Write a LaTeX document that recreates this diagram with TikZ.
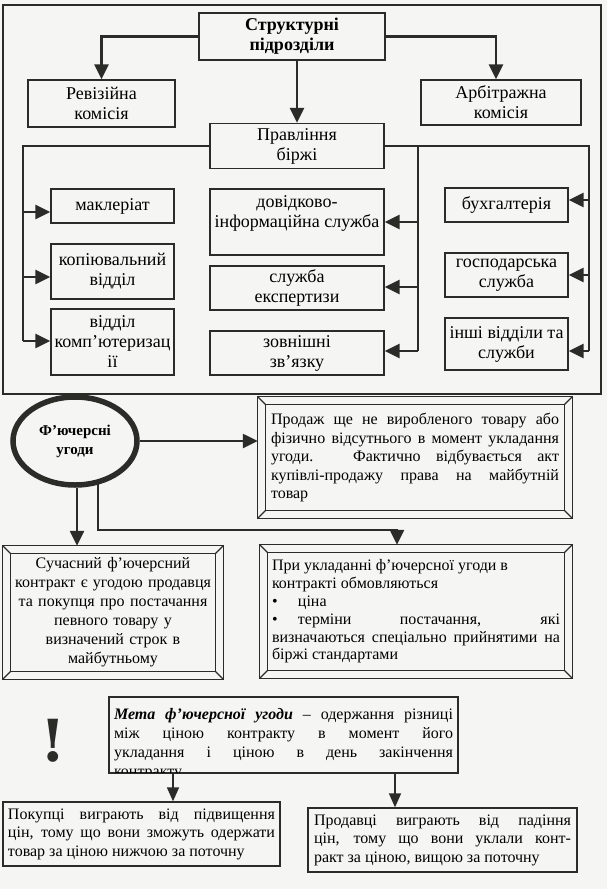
\documentclass[tikz,border=0pt]{standalone}
\usepackage{fontspec}
\setmainfont{Liberation Serif}
\newfontfamily\exclf{DejaVu Serif}
\usetikzlibrary{arrows.meta,shapes.geometric,backgrounds,calc}
\definecolor{paper}{HTML}{F5F5F3}
\definecolor{ink}{HTML}{2B2B28}
\newcommand\topf{\fontsize{18}{20}\selectfont}
\newcommand\bodyf{\fontsize{16}{18.5}\selectfont}
\newcommand\bevel[2]{%
  \draw[bev] (#1.north west) rectangle (#1.south east);
  \draw[bev] ([xshift=#2,yshift=-#2]#1.north west) rectangle ([xshift=-#2,yshift=#2]#1.south east);
  \draw[bev] (#1.north west) -- ([xshift=#2,yshift=-#2]#1.north west);
  \draw[bev] (#1.north east) -- ([xshift=-#2,yshift=-#2]#1.north east);
  \draw[bev] (#1.south west) -- ([xshift=#2,yshift=#2]#1.south west);
  \draw[bev] (#1.south east) -- ([xshift=-#2,yshift=#2]#1.south east);}
\begin{document}
\begin{tikzpicture}[x=1pt,y=-1pt,
  box/.style={draw=ink, line width=1.3pt, fill=paper, inner sep=0pt, align=center, font=\topf},
  bbox/.style={draw=ink, line width=1.3pt, fill=paper, inner sep=0pt, font=\bodyf},
  bevbox/.style={draw=none, fill=paper, inner sep=0pt, font=\bodyf},
  bev/.style={draw=ink, line width=1.2pt},
  frame/.style={draw=ink, line width=1.3pt},
  line/.style={draw=ink, line width=2.4pt},
  conn/.style={draw=ink, line width=2.4pt, -{Triangle[length=15pt,width=14pt]}},
  connb/.style={draw=ink, line width=1.5pt, -{Triangle[length=14pt,width=12pt]}}]
\useasboundingbox (0,0) rectangle (607,889);

% ---------- top section ----------
\draw[frame] (3,5) rectangle (601,394);
\node[box, font=\topf\bfseries, minimum width=186, minimum height=47] (struct) at (292,36.5) {Структурні\\підрозділи};
\node[box, minimum width=147, minimum height=47] (rev) at (101.5,103.5) {Ревізійна\\комісія};
\node[box, minimum width=160, minimum height=45] (arb) at (501,102.5) {Арбітражна\\комісія};
\node[box, minimum width=174, minimum height=45] (prav) at (297,146) {Правління\\біржі};

\node[box, minimum width=123, minimum height=34] (mak) at (112.5,206) {маклеріат};
\node[box, minimum width=123, minimum height=55] (kop) at (112.5,271.5) {копіювальний\\відділ};
\node[box, minimum width=123, minimum height=66] (vid) at (112.5,342) {відділ\\комп’ютеризац\\ії};

\node[box, minimum width=174, minimum height=66] (dov) at (297,222) {};
\node[font=\topf, align=center, inner sep=0pt] (dovt) at (297,213) {довідково-\\інформаційна служба};
\node[box, minimum width=174, minimum height=44] (eksp) at (297,288) {служба\\експертизи};
\node[box, minimum width=174, minimum height=44] (zov) at (297,353) {зовнішні\\зв’язку};

\node[box, minimum width=123, minimum height=34] (buh) at (506.5,205) {бухгалтерія};
\node[box, minimum width=123, minimum height=44] (gosp) at (506.5,275) {господарська\\служба};
\node[box, minimum width=123, minimum height=52] (inshi) at (506.5,344) {інші відділи та\\служби};

\coordinate (LT) at (23,146);
\coordinate (L1) at (23,212);
\coordinate (L2) at (23,277);
\coordinate (L3) at (23,341);
\coordinate (MT) at (418,146);
\coordinate (M1) at (418,222);
\coordinate (M2) at (418,287);
\coordinate (M3) at (418,351);
\coordinate (RT) at (589,146);
\coordinate (R1) at (589,200);
\coordinate (R2) at (589,275);
\coordinate (R3) at (589,351);

% ---------- middle section ----------
\node[ellipse, draw=ink, line width=5.5pt, fill=paper, minimum width=124, minimum height=88, inner sep=0pt, align=center,
      font=\fontsize{15}{19}\selectfont\bfseries] (fut) at (75,441) {Ф’ючерсні\\угоди};

\node[bevbox, minimum width=314, minimum height=121, text width=288, align=justify] (prod) at (415,457.5)
 {Продаж ще не виробленого товару або\linebreak фізично відсутнього в момент укладання\linebreak угоди. Фактично відбувається акт\linebreak купівлі-продажу права на майбутній\linebreak товар};
\bevel{prod}{8pt}

\node[bevbox, minimum width=220, minimum height=133, text width=205, align=center, font=\fontsize{16}{19}\selectfont] (such) at (113,612.5)
 {Сучасний ф’ючерсний\\контракт є угодою продавця\\та покупця про постачання\\певного товару у\\визначений строк в\\майбутньому};
\bevel{such}{8pt}

\node[bevbox, minimum width=312, minimum height=133, text width=288, align=justify, font=\fontsize{16}{17.8}\selectfont] (pri) at (416,611.5)
 {При укладанні ф’ючерсної угоди в\\контракті обмовляються\\\makebox[26pt][l]{•}ціна\\\makebox[26pt][l]{•}терміни постачання, які\linebreak визначаються спеціально прийнятими на\linebreak біржі стандартами};
\bevel{pri}{8pt}

% ---------- bottom section ----------
\node[bbox, minimum width=349, minimum height=76] (meta) at (283.5,735) {};
\begin{scope}
  \clip (meta.north west) rectangle (meta.south east);
  \node[anchor=north, inner sep=0pt, text width=339, align=justify, font=\fontsize{16}{19}\selectfont] (metat) at (283.5,708.5)
   {\textbf{\textit{Мета ф’ючерсної угоди}} – одержання різниці\linebreak між ціною контракту в момент його\linebreak укладання і ціною в день закінчення\linebreak контракту};
\end{scope}
\draw[draw=ink, line width=1.3pt] (meta.north west) rectangle (meta.south east);

\node[font=\exclf\fontsize{58}{58}\selectfont\bfseries, text=ink, inner sep=0pt] (excl) at (53,741) {!};

\node[bbox, minimum width=277, minimum height=64, text width=267, align=justify] (pok) at (141.5,834)
 {Покупці виграють від підвищення\linebreak цін, тому що вони зможуть одержати\linebreak товар за ціною нижчою за поточну};
\node[bbox, minimum width=269, minimum height=64, text width=257, align=justify] (prodv) at (442.5,840)
 {Продавці виграють від падіння\linebreak цін, тому що вони уклали конт-\linebreak ракт за ціною, вищою за поточну};

% ---------- connectors ----------
\begin{scope}[on background layer]
  \fill[paper] (0,0) rectangle (607,889);
  \draw[conn] (struct.west) -| (rev.north);
  \draw[conn] (struct.east) -| ([xshift=-5pt]arb.north);
  \draw[conn] (struct.south -| prav.north) -- (prav.north);
  \draw[line] (prav.west) -- (LT) -- (L3);
  \draw[line] (prav.east) -- (RT) -- (R3);
  \draw[line] (MT) -- (M3);
  \draw[conn] (L1) -- (L1 -| mak.west);
  \draw[conn] (L2) -- (L2 -| kop.west);
  \draw[conn] (L3) -- (L3 -| vid.west);
  \draw[conn] (M1) -- (M1 -| dov.east);
  \draw[conn] (M2) -- (M2 -| eksp.east);
  \draw[conn] (M3) -- (M3 -| zov.east);
  \draw[conn] (R1) -- (R1 -| buh.east);
  \draw[conn] (R2) -- (R2 -| gosp.east);
  \draw[conn] (R3) -- (R3 -| inshi.east);

  \draw[conn] (fut.east) -- (fut.east -| prod.west);
  \draw[conn] ([xshift=2pt]fut.south) -- ([xshift=2pt]fut.south |- such.north);
  \coordinate (fa) at ([xshift=23pt]fut.center);
  \coordinate (fb) at (98,530);
  \coordinate (fc) at (397,530);
  \draw[conn] (fa) -- (fb) -- (fc) -- (fc |- pri.north);

  \draw[connb] ([xshift=-110.5pt]meta.south) coordinate (ma) -- (ma |- pok.north);
  \draw[connb] ([xshift=111.5pt]meta.south) coordinate (mb) -- (mb |- prodv.north);
\end{scope}
\end{tikzpicture}
\end{document}
